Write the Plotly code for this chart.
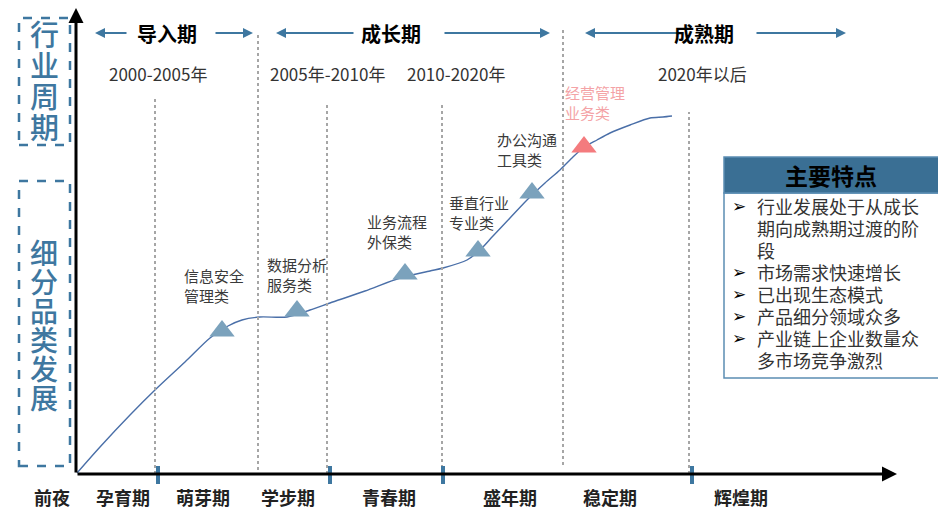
import plotly.graph_objects as go

# coordinates: x to the right of the y axis, y = level above the x axis
curve_x = [0, 23, 53, 79, 108, 133, 151, 165, 183, 210, 233, 253, 288, 323, 353, 366,
           390, 403, 416, 433, 450, 468, 483, 495, 506, 520, 533, 553, 573, 586, 595]
curve_y = [1, 27, 59, 85, 112, 136, 148, 154, 157, 157, 164, 171, 183, 196, 203, 206,
           214, 224, 238, 256, 274, 291, 304, 316, 326, 334, 341, 349, 356, 357, 358]

cat_names = ["信息安全<br>管理类", "数据分析<br>服务类", "业务流程<br>外保类",
             "垂直行业<br>专业类", "办公沟通<br>工具类", "经营管理<br>业务类"]
cat_x = [145, 220, 328, 401, 455, 507]
cat_y = [143, 163, 200, 223, 281, 327]
cat_label_x = [105, 188, 288, 370, 418, 486]
cat_label_y = [189, 200, 243, 262, 325, 372]
cat_color = ["#7BA2BC"] * 5 + ["#F47B7E"]
cat_text_color = ["#3A3A3A"] * 5 + ["#F4A3A6"]

stage_names = ["前夜", "孕育期", "萌芽期", "学步期", "青春期", "盛年期", "稳定期", "辉煌期"]
stage_x = [-25, 46, 126, 211, 312, 433, 533, 664]

phase_names = ["导入期", "成长期", "成熟期"]
phase_x = [90, 314, 627]
phase_arrows = [(51, 18), (137, 176), (278, 199), (366, 473), (603, 508), (678, 769)]

year_names = ["2000-2005年", "2005年-2010年", "2010-2020年", "2020年以后"]
year_x = [81, 250, 379, 625]

dot_x = [78, 181, 250, 365, 486, 612]
dot_top = [376, 439, 371, 371, 444, 362]
dot_bottom = [0, 4, 0, 0, 9, 0]
tick_x = [81, 253, 366, 615]

features = [["行业发展处于从成长", "期向成熟期过渡的阶", "段"],
            ["市场需求快速增长"],
            ["已出现生态模式"],
            ["产品细分领域众多"],
            ["产业链上企业数量众", "多市场竞争激烈"]]

FONT = "Noto Sans CJK SC"
BLUE = "#3E77A0"

fig = go.Figure()

fig.add_trace(go.Scatter(x=curve_x, y=curve_y, mode="lines",
                         line=dict(color="#4A6FA8", width=1.4, shape="spline", smoothing=0.8),
                         hoverinfo="skip"))
fig.add_trace(go.Scatter(x=cat_x, y=cat_y, mode="markers",
                         marker=dict(symbol="triangle-up", size=22, color=cat_color, line=dict(width=0)),
                         hoverinfo="skip"))

shapes = []
for x, t, b in zip(dot_x, dot_top, dot_bottom):
    shapes.append(dict(type="line", x0=x, x1=x, y0=b, y1=t,
                       line=dict(color="#A6A6A6", width=2, dash="dot")))
for x in tick_x:
    shapes.append(dict(type="line", x0=x, x1=x, y0=-10, y1=8, line=dict(color=BLUE, width=4)))
# dashed boxes on the left
shapes.append(dict(type="rect", x0=-58, x1=-7, y0=329, y1=456, line=dict(color=BLUE, width=2.5, dash="dash")))
shapes.append(dict(type="rect", x0=-58, x1=-7, y0=8, y1=293, line=dict(color=BLUE, width=2.5, dash="dash")))
# feature box
shapes.append(dict(type="rect", x0=647, x1=862, y0=96, y1=281, line=dict(color="#5B8DB3", width=1.5),
                   fillcolor="white"))
shapes.append(dict(type="rect", x0=647, x1=862, y0=281, y1=317, line=dict(color="#5B8DB3", width=1.5),
                   fillcolor="#3A6F94"))

ann = []
# axes with arrow heads
ann.append(dict(x=-1, y=466, ax=-1, ay=0, xref="x", yref="y", axref="x", ayref="y", text="",
                showarrow=True, arrowhead=2, arrowsize=1, arrowwidth=3, arrowcolor="black"))
ann.append(dict(x=820, y=0, ax=-1, ay=0, xref="x", yref="y", axref="x", ayref="y", text="",
                showarrow=True, arrowhead=2, arrowsize=1, arrowwidth=3, arrowcolor="black"))
for tail, head in phase_arrows:
    ann.append(dict(x=head, y=441, ax=tail, ay=441, xref="x", yref="y", axref="x", ayref="y", text="",
                    showarrow=True, arrowhead=2, arrowsize=1, arrowwidth=2, arrowcolor=BLUE))
for name, x in zip(phase_names, phase_x):
    ann.append(dict(x=x, y=441, text="<b>" + name + "</b>", showarrow=False,
                    font=dict(family=FONT, size=20, color="black")))
for name, x in zip(year_names, year_x):
    ann.append(dict(x=x, y=401, text=name, showarrow=False, font=dict(family=FONT, size=17, color="#333333")))
for name, x in zip(stage_names, stage_x):
    ann.append(dict(x=x, y=-23, text="<b>" + name + "</b>", showarrow=False,
                    font=dict(family=FONT, size=18, color="#222222")))
for name, x, y, c in zip(cat_names, cat_label_x, cat_label_y, cat_text_color):
    ann.append(dict(x=x, y=y, text=name, showarrow=False, xanchor="left", align="left",
                    font=dict(family=FONT, size=15, color=c)))
# vertical titles
for i, ch in enumerate("行业周期"):
    ann.append(dict(x=-33, y=441 - i * 31, text=ch, showarrow=False,
                    font=dict(family=FONT, size=29, color=BLUE, weight=500)))
for i, ch in enumerate("细分品类发展"):
    ann.append(dict(x=-33, y=222 - i * 29, text=ch, showarrow=False,
                    font=dict(family=FONT, size=28, color=BLUE, weight=500)))
# feature box text
ann.append(dict(x=754, y=299, text="<b>主要特点</b>", showarrow=False, font=dict(family=FONT, size=23, color="black")))
y = 268
for item in features:
    ann.append(dict(x=662, y=y, text="➢", showarrow=False, font=dict(family="DejaVu Sans", size=17, color="black")))
    for line in item:
        ann.append(dict(x=678, y=y, text=line, showarrow=False, xanchor="left",
                        font=dict(family=FONT, size=18, color="#333333")))
        y -= 22

fig.update_layout(width=946, height=514, margin=dict(l=0, r=0, t=0, b=0),
                  paper_bgcolor="white", plot_bgcolor="white", showlegend=False,
                  shapes=shapes, annotations=ann)
# the page puts the figure 8px in from the top-left corner, so the ranges are shifted to match
fig.update_xaxes(range=[-69, 877], visible=False, fixedrange=True)
fig.update_yaxes(range=[-48, 466], visible=False, fixedrange=True)

fig.write_html("out.html")
